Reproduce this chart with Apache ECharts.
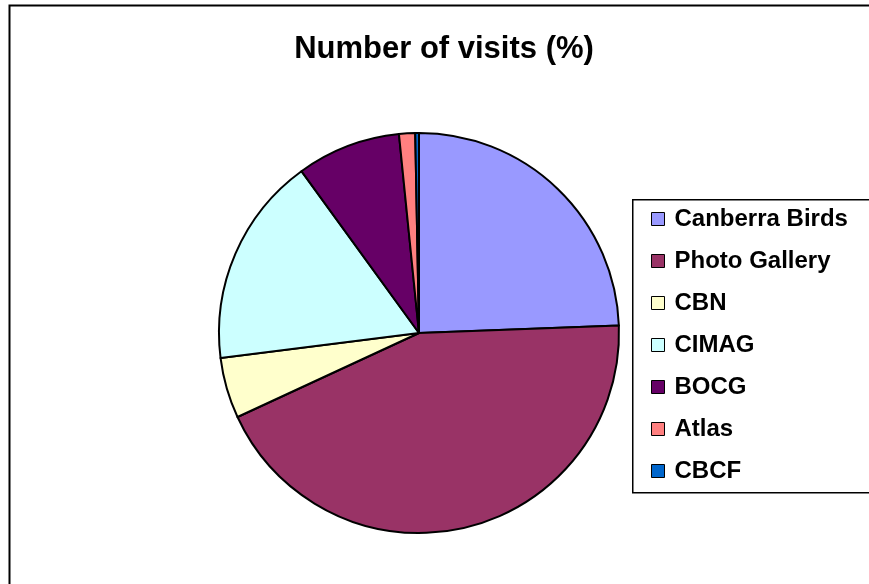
<!DOCTYPE html>
<html>
<head>
<meta charset="utf-8">
<script src="https://cdn.jsdelivr.net/npm/echarts@6/dist/echarts.min.js"></script>
<style>
html,body{margin:0;padding:0;background:#fff;}
#main{width:869px;height:584px;}
</style>
</head>
<body>
<div id="main"></div>
<script>
const categories = ['Canberra Birds', 'Photo Gallery', 'CBN', 'CIMAG', 'BOCG', 'Atlas', 'CBCF'];
const values = [24.4, 43.7, 4.9, 17.0, 8.4, 1.3, 0.3];
const colors = ['#9999FF', '#993366', '#FFFFCC', '#CCFFFF', '#660066', '#FF8080', '#0066CC'];
const titleText = 'Number of visits (%)';

const chart = echarts.init(document.getElementById('main'));
const font = '"Liberation Sans", Arial, sans-serif';
chart.setOption({
  animation: false,
  backgroundColor: '#fff',
  color: colors,
  title: {
    text: titleText,
    left: 444,
    top: 34,
    textAlign: 'center',
    padding: 0,
    textStyle: { fontFamily: font, fontWeight: 'bold', fontSize: 31, color: '#000' }
  },
  graphic: [
    { type: 'rect', left: 7, top: 3, z: -10, silent: true,
      shape: { width: 900, height: 600 },
      style: { fill: 'none', stroke: '#000', lineWidth: 2 } },
    { type: 'rect', left: 632, top: 199, z: -10, silent: true,
      shape: { width: 300, height: 293 },
      style: { fill: '#fff', stroke: '#000', lineWidth: 1.5 } }
  ],
  legend: {
    orient: 'vertical',
    left: 651,
    top: 207,
    padding: 0,
    itemWidth: 13,
    itemHeight: 13,
    itemGap: 18,
    icon: 'rect',
    selectedMode: false,
    itemStyle: { borderColor: '#000', borderWidth: 1 },
    textStyle: { fontFamily: font, fontWeight: 'bold', fontSize: 24, color: '#000', padding: [0, 0, 0, 5], lineHeight: 24 },
    data: categories
  },
  series: [{
    type: 'pie',
    center: [419, 333],
    radius: 200,
    startAngle: 90,
    clockwise: true,
    silent: true,
    label: { show: false },
    labelLine: { show: false },
    itemStyle: { borderColor: '#000', borderWidth: 2 },
    data: categories.map((c, i) => ({ name: c, value: values[i] }))
  }]
});
</script>
</body>
</html>
